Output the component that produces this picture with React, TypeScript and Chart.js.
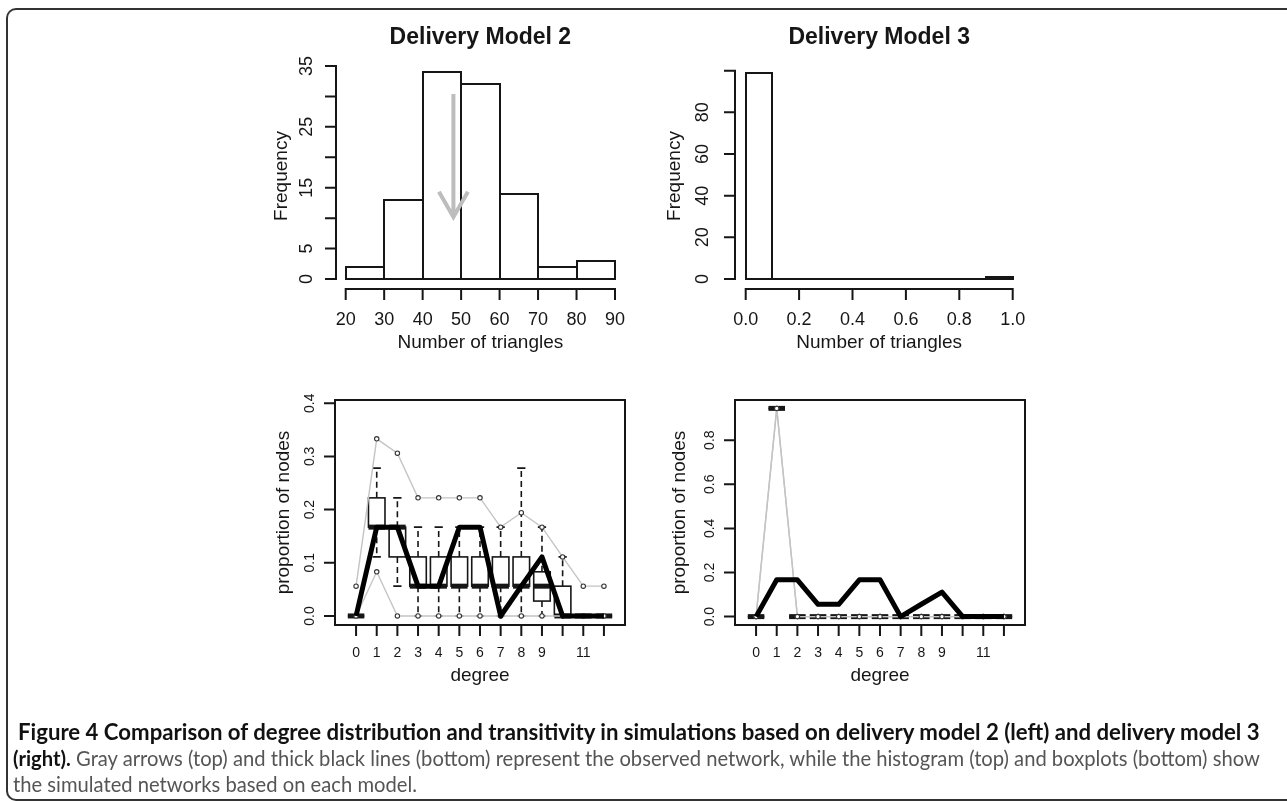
import React, { useEffect, useLayoutEffect, useRef } from 'react';
import { Chart, registerables } from 'chart.js';

Chart.register(...registerables);

const W = 1287;
const H = 801;
const FONT = '"Liberation Sans", Arial, Helvetica, sans-serif';
const INK = '#161616';
const ARROW_GRAY = '#bdbdbd';
const LINE_GRAY = '#c4c4c4';

// ---------- Top left: Delivery Model 2, number of triangles ----------
const m2TriangleBins = [25, 35, 45, 55, 65, 75, 85];
const m2TriangleCounts = [2, 13, 34, 32, 14, 2, 3];
const m2TriangleTicks = [20, 30, 40, 50, 60, 70, 80, 90];
const m2TriangleTickLabels = ['20', '30', '40', '50', '60', '70', '80', '90'];
const m2FreqTicks = [0, 5, 10, 15, 20, 25, 30, 35];
const m2FreqTickLabels = ['0', '5', '', '15', '', '25', '', '35'];
const observedTriangles = [48];
const observedArrowFreq = [30.4, 10.2];

// ---------- Top right: Delivery Model 3, number of triangles ----------
const m3TriangleBins = [0.05, 0.15, 0.25, 0.35, 0.45, 0.55, 0.65, 0.75, 0.85, 0.95];
const m3TriangleCounts = [99, 0, 0, 0, 0, 0, 0, 0, 0, 1];
const m3TriangleTicks = [0, 0.2, 0.4, 0.6, 0.8, 1.0];
const m3TriangleTickLabels = ['0.0', '0.2', '0.4', '0.6', '0.8', '1.0'];
const m3FreqTicks = [0, 20, 40, 60, 80, 100];
const m3FreqTickLabels = ['0', '20', '40', '60', '80', ''];

// ---------- Bottom: degree distributions ----------
const degrees = [0, 1, 2, 3, 4, 5, 6, 7, 8, 9, 10, 11, 12];
const degreeTickLabels = ['0', '1', '2', '3', '4', '5', '6', '7', '8', '9', '', '11', ''];
const observedDegreeProp = [0, 0.167, 0.167, 0.056, 0.056, 0.167, 0.167, 0, 0.056, 0.111, 0, 0, 0];

const m2PropMax = [0.056, 0.333, 0.306, 0.222, 0.222, 0.222, 0.222, 0.167, 0.194, 0.167, 0.111, 0.056, 0.056];
const m2PropMin = [0, 0.083, 0, 0, 0, 0, 0, 0, 0, 0, 0, 0, 0];
const m2WhiskerLow = [0, 0.111, 0.056, 0, 0, 0, 0, 0, 0, 0, 0, 0, 0];
const m2Q1 = [0, 0.167, 0.111, 0.056, 0.056, 0.056, 0.056, 0.056, 0.056, 0.028, 0, 0, 0];
const m2Median = [0, 0.167, 0.167, 0.056, 0.056, 0.056, 0.056, 0.056, 0.056, 0.056, 0, 0, 0];
const m2Q3 = [0, 0.222, 0.167, 0.111, 0.111, 0.111, 0.111, 0.111, 0.111, 0.083, 0.056, 0, 0];
const m2WhiskerHigh = [0, 0.278, 0.222, 0.167, 0.167, 0.167, 0.167, 0.167, 0.278, 0.167, 0.111, 0, 0];
const m2PropTicks = [0, 0.1, 0.2, 0.3, 0.4];
const m2PropTickLabels = ['0.0', '0.1', '0.2', '0.3', '0.4'];

const m3PropMax = [0, 0.944, 0, 0, 0, 0, 0, 0, 0, 0, 0, 0, 0];
const m3PropMin = [0, 0.944, 0, 0, 0, 0, 0, 0, 0, 0, 0, 0, 0];
const m3WhiskerLow = [0, 0.944, 0, 0, 0, 0, 0, 0, 0, 0, 0, 0, 0];
const m3Q1 = [0, 0.944, 0, 0, 0, 0, 0, 0, 0, 0, 0, 0, 0];
const m3Median = [0, 0.944, 0, 0, 0, 0, 0, 0, 0, 0, 0, 0, 0];
const m3Q3 = [0, 0.944, 0, 0, 0, 0, 0, 0, 0, 0, 0, 0, 0];
const m3WhiskerHigh = [0, 0.944, 0, 0, 0, 0, 0, 0, 0, 0, 0, 0, 0];
const m3PropTicks = [0, 0.2, 0.4, 0.6, 0.8];
const m3PropTickLabels = ['0.0', '0.2', '0.4', '0.6', '0.8'];

// ---------- Plugins ----------
const rAxesPlugin = {
  id: 'rAxes',
  afterDraw(chart: any, _a: any, o: any) {
    if (!o || !o.xTicks) return;
    const { ctx, chartArea: a } = chart;
    const xs = chart.scales.x;
    const ys = chart.scales.y;
    ctx.save();
    ctx.strokeStyle = INK;
    ctx.fillStyle = INK;
    ctx.lineWidth = o.lineWidth;
    ctx.lineCap = 'butt';
    ctx.setLineDash([]);
    if (o.box) ctx.strokeRect(a.left, a.top, a.right - a.left, a.bottom - a.top);
    const xp = o.xTicks.map((v: number) => xs.getPixelForValue(v));
    const yp = o.yTicks.map((v: number) => ys.getPixelForValue(v));
    ctx.beginPath();
    if (o.xLine) {
      ctx.moveTo(xp[0] - o.lineWidth / 2, o.xAxisY);
      ctx.lineTo(xp[xp.length - 1] + o.lineWidth / 2, o.xAxisY);
    }
    xp.forEach((p: number) => {
      ctx.moveTo(p, o.xAxisY);
      ctx.lineTo(p, o.xAxisY + o.tickLen);
    });
    if (o.yLine) {
      ctx.moveTo(o.yAxisX, yp[0] + o.lineWidth / 2);
      ctx.lineTo(o.yAxisX, yp[yp.length - 1] - o.lineWidth / 2);
    }
    yp.forEach((p: number) => {
      ctx.moveTo(o.yAxisX, p);
      ctx.lineTo(o.yAxisX - o.tickLen, p);
    });
    ctx.stroke();

    ctx.font = `${o.tickFont}px ${FONT}`;
    ctx.textAlign = 'center';
    ctx.textBaseline = 'alphabetic';
    o.xLabels.forEach((s: string, i: number) => {
      if (s) ctx.fillText(s, xp[i], o.xLabelY);
    });
    ctx.textBaseline = 'middle';
    o.yLabels.forEach((s: string, i: number) => {
      if (!s) return;
      ctx.save();
      ctx.translate(o.yLabelX, yp[i]);
      ctx.rotate(-Math.PI / 2);
      ctx.fillText(s, 0, 0);
      ctx.restore();
    });

    const cx = (a.left + a.right) / 2;
    ctx.font = `${o.labelFont}px ${FONT}`;
    ctx.textBaseline = 'alphabetic';
    ctx.fillText(o.xTitle, cx, o.xTitleY);
    ctx.save();
    ctx.translate(o.yTitleX, o.yTitleY);
    ctx.rotate(-Math.PI / 2);
    ctx.textBaseline = 'middle';
    ctx.fillText(o.yTitle, 0, 0);
    ctx.restore();
    if (o.title) {
      ctx.font = `bold ${o.titleFont}px ${FONT}`;
      ctx.textBaseline = 'alphabetic';
      ctx.fillText(o.title, cx, o.titleY);
    }
    ctx.restore();
  },
};

// outlines each histogram bar (R hist style: every rectangle stroked, zero bars become a baseline)
const histOutlinePlugin = {
  id: 'histOutline',
  afterDatasetsDraw(chart: any, _a: any, o: any) {
    if (!o || !o.enabled) return;
    const { ctx } = chart;
    const meta = chart.getDatasetMeta(0);
    ctx.save();
    ctx.strokeStyle = INK;
    ctx.lineWidth = o.lineWidth;
    ctx.lineJoin = 'miter';
    meta.data.forEach((el: any) => {
      const p = el.getProps(['x', 'y', 'base', 'width'], true);
      const l = Math.round(p.x - p.width / 2);
      const r = Math.round(p.x + p.width / 2);
      const t = Math.round(p.y);
      const b = Math.round(p.base);
      ctx.beginPath();
      ctx.rect(l, t, r - l, b - t);
      ctx.stroke();
    });
    ctx.restore();
  },
};

const arrowPlugin = {
  id: 'obsArrow',
  afterDatasetsDraw(chart: any, _a: any, o: any) {
    if (!o || !o.enabled) return;
    const { ctx } = chart;
    const xs = chart.scales.x;
    const ys = chart.scales.y;
    const x = xs.getPixelForValue(o.x);
    const y0 = ys.getPixelForValue(o.from);
    const y1 = ys.getPixelForValue(o.to);
    const ang = (o.angle * Math.PI) / 180;
    const dx = Math.sin(ang) * o.head;
    const dy = Math.cos(ang) * o.head;
    ctx.save();
    ctx.strokeStyle = o.color;
    ctx.lineWidth = o.width;
    ctx.lineCap = 'butt';
    ctx.lineJoin = 'miter';
    ctx.beginPath();
    ctx.moveTo(x, y0);
    ctx.lineTo(x, y1);
    ctx.moveTo(x - dx, y1 - dy);
    ctx.lineTo(x, y1);
    ctx.lineTo(x + dx, y1 - dy);
    ctx.stroke();
    ctx.restore();
  },
};

const boxplotPlugin = {
  id: 'boxplots',
  beforeDatasetsDraw(chart: any, _a: any, o: any) {
    if (!o || !o.positions) return;
    const { ctx, chartArea: a } = chart;
    const xs = chart.scales.x;
    const ys = chart.scales.y;
    ctx.save();
    ctx.beginPath();
    ctx.rect(a.left, a.top, a.right - a.left, a.bottom - a.top);
    ctx.clip();
    ctx.strokeStyle = INK;
    o.positions.forEach((pos: number, i: number) => {
      const cx = xs.getPixelForValue(pos);
      const hw = xs.getPixelForValue(pos + o.halfWidth) - cx;
      const yLo = ys.getPixelForValue(o.low[i]);
      const yQ1 = ys.getPixelForValue(o.q1[i]);
      const yMed = ys.getPixelForValue(o.median[i]);
      const yQ3 = ys.getPixelForValue(o.q3[i]);
      const yHi = ys.getPixelForValue(o.high[i]);
      ctx.lineWidth = o.lineWidth;
      ctx.setLineDash(o.dash);
      ctx.beginPath();
      ctx.moveTo(cx, yQ3);
      ctx.lineTo(cx, yHi);
      ctx.moveTo(cx, yQ1);
      ctx.lineTo(cx, yLo);
      ctx.stroke();
      ctx.setLineDash([]);
      ctx.beginPath();
      ctx.moveTo(cx - hw / 2, yHi);
      ctx.lineTo(cx + hw / 2, yHi);
      ctx.moveTo(cx - hw / 2, yLo);
      ctx.lineTo(cx + hw / 2, yLo);
      ctx.stroke();
      ctx.strokeRect(cx - hw, yQ3, 2 * hw, yQ1 - yQ3);
      ctx.lineWidth = o.medianWidth;
      ctx.beginPath();
      ctx.moveTo(cx - hw, yMed);
      ctx.lineTo(cx + hw, yMed);
      ctx.stroke();
    });
    ctx.restore();
  },
};

// area in page coordinates -> layout padding on a full-page canvas
function padFor(left: number, top: number, right: number, bottom: number) {
  return { left, top, right: W - right, bottom: H - bottom };
}

function histConfig(bins: number[], counts: number[], xMin: number, xMax: number, yMax: number, step: number,
  area: number[], axes: any, arrow: any) {
  return {
    type: 'bar',
    data: {
      datasets: [{
        data: bins.map((x, i) => ({ x, y: counts[i] })),
        backgroundColor: '#ffffff',
        borderWidth: 0,
        inflateAmount: 0,
        barPercentage: 1,
        categoryPercentage: 1,
      }],
    },
    options: {
      animation: false,
      responsive: false,
      devicePixelRatio: 1,
      events: [],
      layout: { padding: padFor(area[0], area[1], area[2], area[3]) },
      scales: {
        x: { type: 'linear', min: xMin, max: xMax, offset: false, display: false, ticks: { stepSize: step } },
        y: { type: 'linear', min: 0, max: yMax, display: false },
      },
      plugins: {
        legend: { display: false },
        tooltip: { enabled: false },
        rAxes: axes,
        histOutline: { enabled: true, lineWidth: 2 },
        obsArrow: arrow,
      },
    },
    plugins: [rAxesPlugin, histOutlinePlugin, arrowPlugin],
  } as any;
}

function degreeConfig(upper: number[], lower: number[], stats: any, yMin: number, yMax: number,
  area: number[], axes: any) {
  const grayLine = (vals: number[]) => ({
    data: degrees.map((d, i) => ({ x: d, y: vals[i] })),
    borderColor: LINE_GRAY,
    borderWidth: 1.4,
    pointRadius: 2.2,
    pointBorderWidth: 1.1,
    pointBorderColor: '#333333',
    pointBackgroundColor: '#ffffff',
    tension: 0,
    fill: false,
  });
  return {
    type: 'line',
    data: {
      datasets: [
        {
          data: degrees.map((d, i) => ({ x: d, y: observedDegreeProp[i] })),
          borderColor: '#000000',
          borderWidth: 5,
          pointRadius: 0,
          borderJoinStyle: 'round',
          borderCapStyle: 'butt',
          tension: 0,
          fill: false,
        },
        grayLine(upper),
        grayLine(lower),
      ],
    },
    options: {
      animation: false,
      responsive: false,
      devicePixelRatio: 1,
      events: [],
      layout: { padding: padFor(area[0], area[1], area[2], area[3]) },
      scales: {
        x: { type: 'linear', min: -1.02, max: 13.02, display: false },
        y: { type: 'linear', min: yMin, max: yMax, display: false },
      },
      plugins: {
        legend: { display: false },
        tooltip: { enabled: false },
        boxplots: stats,
        rAxes: axes,
      },
    },
    plugins: [boxplotPlugin, rAxesPlugin],
  } as any;
}

const BOX_STYLE = { halfWidth: 0.4, lineWidth: 1.6, medianWidth: 5, dash: [6, 4] };

export default function App() {
  const c1 = useRef<HTMLCanvasElement>(null);
  const c2 = useRef<HTMLCanvasElement>(null);
  const c3 = useRef<HTMLCanvasElement>(null);
  const c4 = useRef<HTMLCanvasElement>(null);
  const l1 = useRef<HTMLSpanElement>(null);
  const l2 = useRef<HTMLSpanElement>(null);
  const l3 = useRef<HTMLSpanElement>(null);

  useEffect(() => {
    const topAxes = {
      lineWidth: 2, tickLen: 11, xAxisY: 289, xLine: true, yLine: true,
      tickFont: 18, labelFont: 19, titleFont: 23,
      xLabelY: 325, xTitle: 'Number of triangles', xTitleY: 348,
      yTitle: 'Frequency', yTitleY: 176, titleY: 44,
    };
    const ch1 = new Chart(c1.current!, histConfig(
      m2TriangleBins, m2TriangleCounts, 20, 90, 35, 10,
      [345.7, 66, 615, 279],
      {
        ...topAxes, title: 'Delivery Model 2',
        xTicks: m2TriangleTicks, xLabels: m2TriangleTickLabels,
        yTicks: m2FreqTicks, yLabels: m2FreqTickLabels,
        yAxisX: 336, yLabelX: 307.5, yTitleX: 282,
      },
      { enabled: true, x: observedTriangles[0], from: observedArrowFreq[0], to: observedArrowFreq[1],
        color: ARROW_GRAY, width: 4, head: 29, angle: 30 },
    ));
    const ch2 = new Chart(c2.current!, histConfig(
      m3TriangleBins, m3TriangleCounts, 0, 1, 100, 0.1,
      [745.7, 70.7, 1012.7, 279],
      {
        ...topAxes, title: 'Delivery Model 3',
        xTicks: m3TriangleTicks, xLabels: m3TriangleTickLabels,
        yTicks: m3FreqTicks, yLabels: m3FreqTickLabels,
        yAxisX: 735, yLabelX: 703, yTitleX: 675,
      },
      { enabled: false },
    ));
    const botAxes = {
      lineWidth: 2, tickLen: 11, xAxisY: 625, xLine: false, yLine: false, box: true,
      tickFont: 14, labelFont: 19,
      xLabelY: 657, xTitle: 'degree', xTitleY: 681,
      yTitle: 'proportion of nodes', yTitleY: 512.5,
      xTicks: degrees, xLabels: degreeTickLabels,
    };
    const ch3 = new Chart(c3.current!, degreeConfig(
      m2PropMax, m2PropMin,
      { ...BOX_STYLE, positions: degrees, low: m2WhiskerLow, q1: m2Q1, median: m2Median, q3: m2Q3, high: m2WhiskerHigh },
      -0.017, 0.406, [335, 400, 625, 625],
      { ...botAxes, yTicks: m2PropTicks, yLabels: m2PropTickLabels, yAxisX: 335, yLabelX: 310, yTitleX: 284 },
    ));
    const ch4 = new Chart(c4.current!, degreeConfig(
      m3PropMax, m3PropMin,
      { ...BOX_STYLE, positions: degrees, low: m3WhiskerLow, q1: m3Q1, median: m3Median, q3: m3Q3, high: m3WhiskerHigh },
      -0.038, 0.982, [735, 400, 1025, 625],
      { ...botAxes, yTicks: m3PropTicks, yLabels: m3PropTickLabels, yAxisX: 735, yLabelX: 710, yTitleX: 680 },
    ));
    return () => {
      ch1.destroy();
      ch2.destroy();
      ch3.destroy();
      ch4.destroy();
    };
  }, []);

  useLayoutEffect(() => {
    const fitOne = (el: HTMLSpanElement | null, target: number) => {
      if (!el) return 16;
      el.style.fontSize = '16px';
      const w = el.getBoundingClientRect().width;
      const fs = w > 0 ? (16 * target) / w : 16;
      el.style.fontSize = fs + 'px';
      return fs;
    };
    const fit = () => {
      fitOne(l1.current, 1242);
      const fs2 = fitOne(l2.current, 1247);
      if (l3.current) l3.current.style.fontSize = fs2 + 'px';
    };
    fit();
    const fonts = (document as any).fonts;
    if (fonts && fonts.ready) fonts.ready.then(fit);
  }, []);

  const canvasStyle: React.CSSProperties = { position: 'absolute', left: 0, top: 0, width: W, height: H };
  const capFont = 'Lato, "Open Sans", "Noto Sans", sans-serif';
  const lineStyle = (left: number, top: number): React.CSSProperties => ({
    position: 'absolute', left, top, whiteSpace: 'nowrap', fontFamily: capFont, lineHeight: '22px',
  });

  return (
    <div style={{ position: 'absolute', left: 0, top: 0, width: W, height: H, overflow: 'hidden', background: '#ffffff' }}>
      <div style={{
        position: 'absolute', left: 6, top: 8, width: 1320, height: 793, boxSizing: 'border-box',
        borderTop: '2px solid #333333', borderLeft: '2px solid #333333', borderBottom: '2px solid #333333',
        borderRight: 'none', borderTopLeftRadius: 10, borderBottomLeftRadius: 10,
      }} />
      <canvas ref={c1} width={W} height={H} style={canvasStyle} />
      <canvas ref={c2} width={W} height={H} style={canvasStyle} />
      <canvas ref={c3} width={W} height={H} style={canvasStyle} />
      <canvas ref={c4} width={W} height={H} style={canvasStyle} />
      <div style={lineStyle(18, 721)}>
        <span ref={l1} style={{ fontWeight: 700, color: '#111111' }}>
          Figure 4 Comparison of degree distribution and transitivity in simulations based on delivery model 2 (left) and delivery model 3
        </span>
      </div>
      <div style={lineStyle(13, 747)}>
        <span ref={l2} style={{ color: '#555555' }}>
          <b style={{ color: '#111111' }}>(right).</b> Gray arrows (top) and thick black lines (bottom) represent the observed network, while the histogram (top) and boxplots (bottom) show
        </span>
      </div>
      <div style={lineStyle(13, 773)}>
        <span ref={l3} style={{ color: '#555555' }}>
          the simulated networks based on each model.
        </span>
      </div>
    </div>
  );
}
